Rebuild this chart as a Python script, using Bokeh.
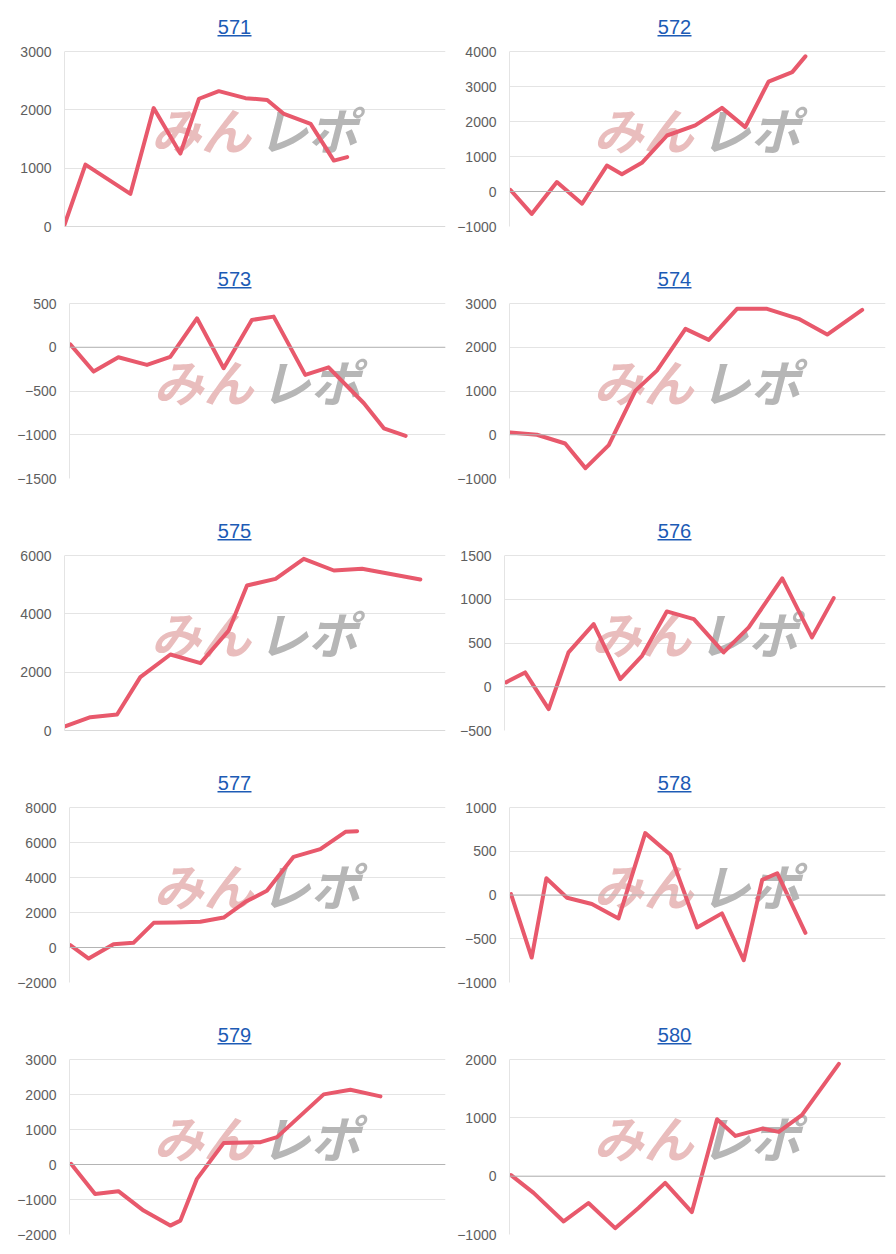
from bokeh.plotting import figure
from bokeh.models import Range1d, FixedTicker, Span, Label, BoxAnnotation
from bokeh.layouts import column, row
from bokeh.embed import file_html
from bokeh.resources import INLINE

# ---- data (x = position along the session, 0..100; y = difference in coins) ----
titles = ["571", "572", "573", "574", "575", "576", "577", "578", "579", "580"]

x_571 = [0, 5.5, 17.3, 23.4, 30.4, 35.3, 40.5, 47.5, 53.2, 57.6, 64.6, 70.7, 74.2]
y_571 = [30, 1060, 560, 2030, 1250, 2190, 2320, 2200, 2170, 1930, 1760, 1130, 1190]
ticks_571 = [0, 1000, 2000, 3000]

x_572 = [0.2, 5.9, 12.6, 19.3, 25.9, 29.9, 35.2, 41.9, 49.4, 56.5, 62.7, 68.9, 75.2, 78.7]
y_572 = [50, -640, 270, -350, 740, 490, 820, 1600, 1890, 2390, 1840, 3140, 3410, 3860]
ticks_572 = [-1000, 0, 1000, 2000, 3000, 4000]

x_573 = [0.2, 6.4, 13.0, 20.6, 26.8, 33.9, 41.0, 48.5, 54.3, 62.7, 68.9, 78.3, 83.6, 89.4]
y_573 = [34, -278, -114, -202, -110, 331, -240, 312, 350, -316, -229, -640, -926, -1013]
ticks_573 = [-1500, -1000, -500, 0, 500]

x_574 = [0.2, 7.3, 14.8, 20.2, 26.4, 33.5, 39.2, 46.8, 53.0, 60.5, 68.5, 76.9, 84.5, 93.8]
y_574 = [53, 0, -200, -763, -237, 1008, 1466, 2420, 2168, 2878, 2878, 2650, 2290, 2855]
ticks_574 = [-1000, 0, 1000, 2000, 3000]

x_575 = [0.3, 6.8, 13.8, 19.9, 27.8, 35.7, 43.1, 47.9, 55.4, 62.8, 70.7, 78.1, 93.4]
y_575 = [149, 457, 549, 1829, 2606, 2309, 3429, 4971, 5200, 5886, 5486, 5543, 5177]
ticks_575 = [0, 2000, 4000, 6000]

x_576 = [0.4, 5.4, 11.6, 16.8, 23.4, 30.4, 36.1, 42.6, 49.7, 57.5, 64.1, 72.9, 80.7, 86.4]
y_576 = [50, 164, -255, 392, 716, 88, 354, 861, 773, 392, 678, 1238, 564, 1013]
ticks_576 = [-500, 0, 500, 1000, 1500]

x_577 = [0.2, 5.1, 11.7, 17.0, 22.4, 28.1, 34.8, 41.0, 46.8, 52.5, 59.6, 66.7, 73.4, 76.5]
y_577 = [133, -629, 190, 267, 1410, 1429, 1467, 1714, 2610, 3238, 5181, 5619, 6610, 6648]
ticks_577 = [-2000, 0, 2000, 4000, 6000, 8000]

x_578 = [0.4, 5.9, 9.8, 15.3, 21.9, 29.0, 36.1, 42.8, 49.9, 56.5, 62.3, 67.2, 71.2, 78.7]
y_578 = [11, -715, 191, -31, -103, -268, 707, 459, -371, -210, -746, 172, 249, -432]
ticks_578 = [-1000, -500, 0, 500, 1000]

x_579 = [0.4, 6.8, 13.0, 19.7, 26.8, 29.5, 33.9, 41.0, 50.8, 55.2, 67.6, 74.7, 82.7]
y_579 = [19, -840, -763, -1317, -1746, -1603, -410, 611, 639, 782, 2004, 2137, 1947]
ticks_579 = [-2000, -1000, 0, 1000, 2000, 3000]

x_580 = [0.4, 6.4, 14.4, 21.0, 28.1, 34.3, 41.4, 48.5, 55.2, 60.1, 67.2, 71.6, 77.8, 87.6]
y_580 = [17, -287, -776, -460, -891, -546, -115, -615, 977, 690, 816, 759, 1052, 1925]
ticks_580 = [-1000, 0, 1000, 2000]

xs = [x_571, x_572, x_573, x_574, x_575, x_576, x_577, x_578, x_579, x_580]
ys = [y_571, y_572, y_573, y_574, y_575, y_576, y_577, y_578, y_579, y_580]
ticks = [ticks_571, ticks_572, ticks_573, ticks_574, ticks_575,
         ticks_576, ticks_577, ticks_578, ticks_579, ticks_580]

# ---- layout / style ----
LINE_COLOR = "#e8596c"
GRID_COLOR = "#e4e4e4"
ZERO_COLOR = "#b4b4b4"
TICK_COLOR = "#5e5e5e"
TITLE_COLOR = "#1d5bb5"
FONT = "Liberation Sans"
JP_FONT = "Noto Sans CJK JP"

frame_left = [64, 61, 69, 61, 64, 56, 69, 61, 69, 61]
DATA_H = 175      # height of the plotting area between lowest and highest tick
TOP = 51          # space above the plotting area (title zone)


def make_panel(i):
    left_col = (i % 2 == 0)
    last_row = (i >= 8)
    L = frame_left[i]
    R = 3 if left_col else 11
    B = 20 if last_row else 26
    H = TOP + DATA_H + B
    W = 448
    frame_w = W - L - R
    t = ticks[i]
    y_end = t[0] + (t[-1] - t[0]) * (DATA_H + TOP) / DATA_H
    p = figure(width=W, height=H, x_range=Range1d(0, 100), y_range=Range1d(t[0], y_end),
               x_axis_location=None, toolbar_location=None, tools="",
               output_backend="svg", min_border_left=L, min_border_right=R,
               min_border_top=0, min_border_bottom=B)
    p.outline_line_color = None
    p.background_fill_color = "white"
    p.border_fill_color = "white"

    ax = p.yaxis[0]
    ax.ticker = FixedTicker(ticks=t)
    ax.bounds = (t[0], t[-1])
    ax.major_tick_out = 0
    ax.major_tick_in = 0
    ax.minor_tick_out = 0
    ax.minor_tick_in = 0
    ax.major_label_standoff = 13
    ax.axis_line_color = GRID_COLOR
    ax.major_label_text_font = FONT
    ax.major_label_text_font_size = "14px"
    ax.major_label_text_color = TICK_COLOR

    p.ygrid.grid_line_color = GRID_COLOR
    p.ygrid.ticker = FixedTicker(ticks=t)
    p.xgrid.visible = False

    p.add_layout(Span(location=0, dimension="width", line_color=ZERO_COLOR, line_width=1))

    # watermark
    cx = frame_w / 2
    wy = DATA_H / 2 + 11
    wm1 = Label(x=cx - 4, y=wy, x_units="screen", y_units="screen", text="みん",
                text_font=JP_FONT, text_font_size="50px", text_font_style="bold italic",
                text_color="#e9bdbd", text_align="right", text_baseline="middle")
    wm2 = Label(x=cx + 3, y=wy, x_units="screen", y_units="screen", text="レポ",
                text_font=JP_FONT, text_font_size="50px", text_font_style="bold italic",
                text_color="#b6b6b6", text_align="left", text_baseline="middle")
    wm1.level = "underlay"
    wm2.level = "underlay"
    p.add_layout(wm1)
    p.add_layout(wm2)

    p.line(xs[i], ys[i], line_color=LINE_COLOR, line_width=4, line_join="round", line_cap="round")

    # title with underline
    tcx = (234 - L) if left_col else (226 - L)
    title = Label(x=tcx, y=DATA_H + 25, x_units="screen", y_units="screen", text=titles[i],
                  text_font=FONT, text_font_size="20px", text_color=TITLE_COLOR,
                  text_align="center", text_baseline="middle")
    p.add_layout(title)
    ul = BoxAnnotation(left=tcx - 17, right=tcx + 17, bottom=DATA_H + 15, top=DATA_H + 16.5,
                       left_units="screen", right_units="screen",
                       bottom_units="screen", top_units="screen",
                       fill_color=TITLE_COLOR, fill_alpha=1.0, line_color=None)
    p.add_layout(ul)
    return p


panels = [make_panel(i) for i in range(10)]
layout = column(*[row(panels[2 * r], panels[2 * r + 1]) for r in range(5)])

open("out.html", "w").write(file_html(layout, INLINE))
